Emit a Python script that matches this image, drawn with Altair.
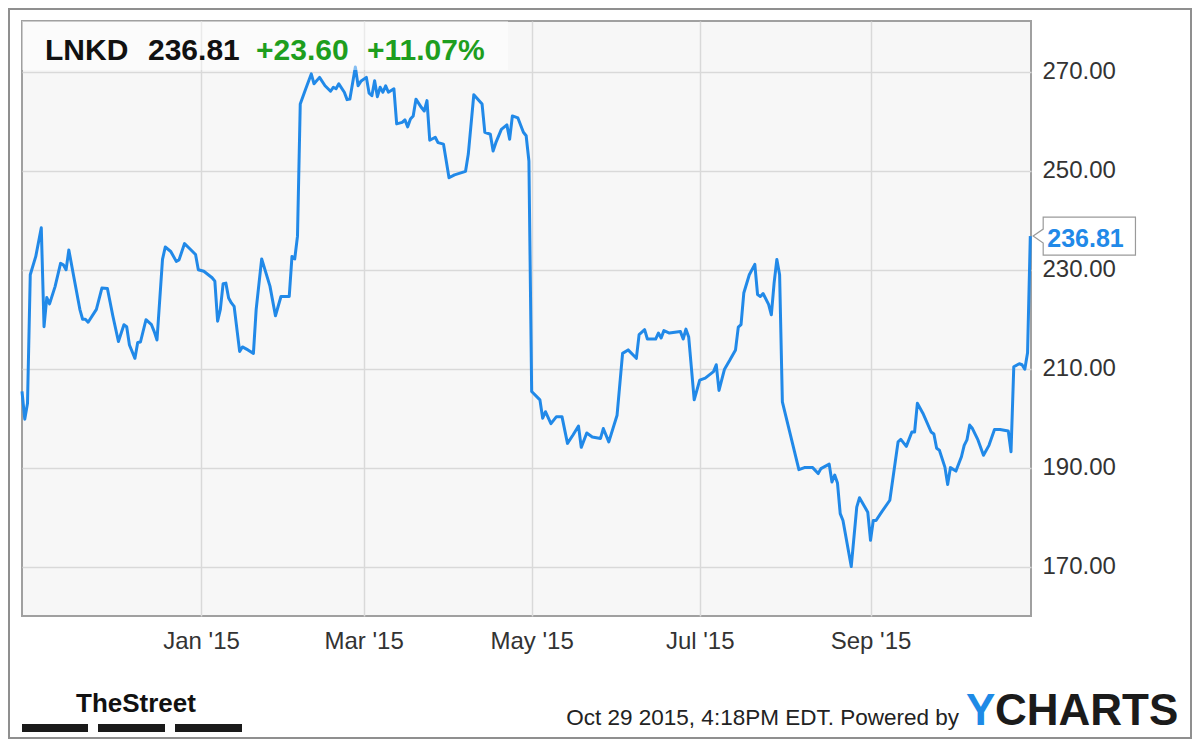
import altair as alt
import pandas as pd

# ---------------- data ----------------
dates = [
    "2014-10-28", "2014-10-29", "2014-10-30", "2014-10-31", "2014-11-02", "2014-11-04",
    "2014-11-05", "2014-11-06", "2014-11-07", "2014-11-09", "2014-11-11", "2014-11-12",
    "2014-11-13", "2014-11-14", "2014-11-16", "2014-11-18", "2014-11-19", "2014-11-20",
    "2014-11-21", "2014-11-24", "2014-11-26", "2014-11-28", "2014-11-30", "2014-12-02",
    "2014-12-04", "2014-12-05", "2014-12-06", "2014-12-08", "2014-12-09", "2014-12-10",
    "2014-12-12", "2014-12-14", "2014-12-15", "2014-12-16", "2014-12-18", "2014-12-19",
    "2014-12-21", "2014-12-23", "2014-12-24", "2014-12-26", "2014-12-28", "2014-12-30",
    "2014-12-31", "2015-01-02", "2015-01-05", "2015-01-06", "2015-01-07", "2015-01-08",
    "2015-01-09", "2015-01-10", "2015-01-11", "2015-01-12", "2015-01-13", "2015-01-15",
    "2015-01-16", "2015-01-18", "2015-01-20", "2015-01-21", "2015-01-23", "2015-01-26",
    "2015-01-28", "2015-01-30", "2015-02-02", "2015-02-03", "2015-02-04", "2015-02-05",
    "2015-02-06", "2015-02-08", "2015-02-10", "2015-02-11", "2015-02-13", "2015-02-15",
    "2015-02-17", "2015-02-18", "2015-02-19", "2015-02-20", "2015-02-22", "2015-02-23",
    "2015-02-24", "2015-02-26", "2015-02-27", "2015-02-28", "2015-03-02", "2015-03-03",
    "2015-03-04", "2015-03-05", "2015-03-06", "2015-03-07", "2015-03-08", "2015-03-09",
    "2015-03-10", "2015-03-12", "2015-03-13", "2015-03-15", "2015-03-16", "2015-03-17",
    "2015-03-18", "2015-03-19", "2015-03-20", "2015-03-22", "2015-03-23", "2015-03-24",
    "2015-03-25", "2015-03-27", "2015-03-28", "2015-03-30", "2015-04-01", "2015-04-03",
    "2015-04-07", "2015-04-08", "2015-04-10", "2015-04-13", "2015-04-14", "2015-04-16",
    "2015-04-17", "2015-04-18", "2015-04-20", "2015-04-22", "2015-04-23", "2015-04-24",
    "2015-04-26", "2015-04-28", "2015-04-29", "2015-04-30", "2015-05-01", "2015-05-04",
    "2015-05-05", "2015-05-06", "2015-05-08", "2015-05-10", "2015-05-12", "2015-05-14",
    "2015-05-16", "2015-05-18", "2015-05-19", "2015-05-21", "2015-05-23", "2015-05-26",
    "2015-05-27", "2015-05-29", "2015-06-01", "2015-06-03", "2015-06-05", "2015-06-08",
    "2015-06-09", "2015-06-11", "2015-06-12", "2015-06-15", "2015-06-16", "2015-06-17",
    "2015-06-18", "2015-06-20", "2015-06-24", "2015-06-25", "2015-06-26", "2015-06-27",
    "2015-06-29", "2015-07-01", "2015-07-03", "2015-07-06", "2015-07-07", "2015-07-08",
    "2015-07-10", "2015-07-12", "2015-07-14", "2015-07-15", "2015-07-16", "2015-07-17",
    "2015-07-19", "2015-07-21", "2015-07-22", "2015-07-23", "2015-07-24", "2015-07-26",
    "2015-07-27", "2015-07-28", "2015-07-29", "2015-07-30", "2015-07-31", "2015-08-06",
    "2015-08-08", "2015-08-11", "2015-08-13", "2015-08-14", "2015-08-17", "2015-08-18",
    "2015-08-19", "2015-08-20", "2015-08-21", "2015-08-22", "2015-08-25", "2015-08-27",
    "2015-08-28", "2015-08-31", "2015-09-01", "2015-09-02", "2015-09-03", "2015-09-05",
    "2015-09-08", "2015-09-11", "2015-09-12", "2015-09-14", "2015-09-16", "2015-09-17",
    "2015-09-18", "2015-09-20", "2015-09-23", "2015-09-24", "2015-09-25", "2015-09-26",
    "2015-09-28", "2015-09-29", "2015-09-30", "2015-10-02", "2015-10-04", "2015-10-05",
    "2015-10-06", "2015-10-07", "2015-10-08", "2015-10-10", "2015-10-12", "2015-10-14",
    "2015-10-16", "2015-10-18", "2015-10-21", "2015-10-22", "2015-10-23", "2015-10-25",
    "2015-10-26", "2015-10-27", "2015-10-28", "2015-10-29",
]
prices = [
    205.4, 199.8, 203.0, 229.0, 232.7, 238.5,
    218.5, 224.4, 223.1, 226.6, 231.3, 231.0,
    230.0, 234.0, 228.0, 222.0, 220.0, 220.0,
    219.4, 222.0, 226.3, 226.2, 220.6, 215.5,
    218.9, 218.5, 214.8, 212.1, 215.3, 215.4,
    219.9, 218.9, 217.5, 215.8, 232.1, 234.6,
    233.7, 231.7, 232.0, 235.3, 234.2, 233.1,
    230.0, 229.7, 228.4, 227.7, 219.6, 222.0,
    227.2, 227.3, 224.3, 223.3, 222.6, 213.5,
    214.4, 213.8, 213.1, 222.0, 232.2, 226.7,
    220.7, 224.6, 224.6, 232.7, 232.2, 236.8,
    263.5, 266.6, 269.6, 267.6, 268.9, 267.2,
    266.1, 266.9, 266.6, 267.6, 265.9, 264.4,
    264.5, 271.0, 267.2, 268.1, 268.9, 265.7,
    265.2, 268.2, 265.0, 266.9, 265.9, 267.2,
    265.9, 266.6, 259.5, 259.8, 260.3, 258.9,
    260.5, 261.1, 264.5, 262.8, 262.1, 264.2,
    256.2, 256.8, 255.7, 255.4, 248.6, 249.2,
    249.9, 253.4, 265.4, 263.5, 257.8, 257.4,
    254.0, 255.7, 258.4, 259.3, 256.4, 261.1,
    260.7, 257.8, 257.1, 252.0, 205.4, 203.7,
    200.0, 201.3, 198.9, 200.3, 200.3, 194.9,
    196.6, 198.4, 194.1, 197.0, 196.2, 195.9,
    197.9, 195.2, 200.6, 213.1, 213.8, 212.1,
    216.9, 217.9, 216.0, 216.0, 217.2, 216.2,
    217.7, 217.2, 217.5, 216.0, 218.0, 216.4,
    203.7, 207.7, 208.1, 209.4, 210.8, 205.6,
    209.9, 211.8, 213.8, 218.4, 218.9, 225.3,
    229.0, 231.1, 225.0, 224.6, 225.2, 223.0,
    220.9, 227.3, 232.1, 229.0, 203.3, 189.6,
    190.0, 190.0, 188.8, 189.8, 190.7, 187.1,
    188.5, 186.9, 180.7, 179.3, 170.0, 182.0,
    183.9, 181.0, 175.3, 179.3, 179.3, 181.0,
    183.4, 195.2, 195.7, 194.3, 197.2, 197.2,
    203.0, 201.0, 197.2, 196.8, 193.9, 193.5,
    190.1, 186.6, 190.0, 189.3, 192.2, 194.5,
    195.6, 198.6, 197.9, 195.6, 192.5, 194.5,
    197.7, 197.7, 197.4, 193.2, 210.4, 211.0,
    210.8, 209.9, 213.21, 236.81,
]

ticker = "LNKD"
last_price = 236.81
price_change = 23.60
pct_change = 11.07
y_ticks = [170, 190, 210, 230, 250, 270]
x_tick_months = [1, 3, 5, 7, 9]          # months of 2015 that carry a label
stamp_text = "Oct 29 2015, 4:18PM EDT. Powered by"
street_logo = "TheStreet"
ycharts_first = "Y"
ycharts_rest = "CHARTS"

# ---------------- styling ----------------
FONT = "Liberation Sans"
BLUE = "#2189e8"
GREEN = "#1e9e1e"
GRID = "#d9d9d9"
W, H = 1009, 595

df = pd.DataFrame({"date": dates, "price": prices})
last_row = pd.DataFrame({"date": [dates[-1]], "price": [last_price],
                         "label": [f"{last_price:.2f}"]})

x_scale = alt.Scale(type="utc", domain=[
    alt.DateTime(year=2014, month=10, date=28, utc=True),
    alt.DateTime(year=2015, month=10, date=29, hours=6, utc=True)])
y_scale = alt.Scale(domain=[160, 280.3], nice=False, zero=False)

x_axis = alt.Axis(values=[alt.DateTime(year=2015, month=m, date=1, utc=True) for m in x_tick_months],
                  labelExpr="utcFormat(datum.value, \"%b '%y\")", ticks=False, domain=False,
                  grid=True, gridColor=GRID, gridWidth=1.5, labelFont=FONT, labelFontSize=24,
                  labelColor="#333333", labelPadding=13, title=None)
y_axis = alt.Axis(orient="right", values=y_ticks, format=".2f", ticks=False, domain=False,
                  grid=True, gridColor=GRID, gridWidth=1.5, labelFont=FONT, labelFontSize=24,
                  labelColor="#333333", labelPadding=11, title=None)

X = alt.X("date:T", scale=x_scale, axis=x_axis)
Y = alt.Y("price:Q", scale=y_scale, axis=y_axis)


def const_text(txt, x, y, size, color, weight="normal", align="left", font=FONT):
    return alt.Chart(pd.DataFrame({"t": [txt]})).mark_text(
        align=align, baseline="alphabetic", font=font, fontSize=size,
        fontWeight=weight, color=color
    ).encode(x=alt.value(x), y=alt.value(y), text="t:N")


def const_rect(x, x2, y, y2, **kw):
    return alt.Chart(pd.DataFrame({"k": [0]})).mark_rect(**kw).encode(
        x=alt.value(x), x2=alt.value(x2), y=alt.value(y), y2=alt.value(y2))


line = alt.Chart(df).mark_line(color=BLUE, strokeWidth=3, strokeJoin="round").encode(x=X, y=Y)

title_box = const_rect(0, 486, 0, 49, fill="white", opacity=0.45)
t_ticker = const_text(ticker, 23, 39, 30, "#111111", "bold")
t_price = const_text(f"{last_price:.2f}", 126, 39, 30, "#111111", "bold")
t_chg = const_text(f"+{price_change:.2f}", 234, 39, 30, GREEN, "bold")
t_pct = const_text(f"+{pct_change:.2f}%", 345, 39, 30, GREEN, "bold")

callout_shape = ("M-1,0L-0.804,-0.137L-0.804,-0.3725L1,-0.3725L1,0.3725"
                 "L-0.804,0.3725L-0.804,0.137Z")
callout = alt.Chart(last_row).mark_point(
    shape=callout_shape, size=10465, filled=True, fill="white", fillOpacity=1,
    stroke="#9a9a9a", strokeOpacity=1, strokeWidth=1.2, opacity=1, xOffset=54
).encode(x=X, y=Y)
callout_text = alt.Chart(last_row).mark_text(
    align="left", baseline="alphabetic", dx=17, dy=11, font=FONT, fontSize=25,
    fontWeight="bold", color=BLUE
).encode(x=X, y=Y, text="label:N")

street = const_text(street_logo, 54, 691, 26, "#111111", "bold")
bar1 = const_rect(0, 66, 703, 711, fill="#1a1a1a")
bar2 = const_rect(76, 143, 703, 711, fill="#1a1a1a")
bar3 = const_rect(153, 220, 703, 711, fill="#1a1a1a")
stamp = const_text(stamp_text, 937, 704, 22.5, "#222222", align="right")
yc1 = const_text(ycharts_first, 944, 704, 44, "#1e8ae6", "bold")
yc2 = const_text(ycharts_rest, 973, 704, 44, "#1b1b1b", "bold")

border = const_rect(-13, 1169, -12, 717, fillOpacity=0, stroke="#8f8f8f", strokeWidth=2)

chart = alt.layer(
    line, title_box, t_ticker, t_price, t_chg, t_pct, callout, callout_text,
    street, bar1, bar2, bar3, stamp, yc1, yc2, border
).properties(
    width=W, height=H,
    autosize=alt.AutoSizeParams(type="none"),
    padding={"left": 14, "top": 13, "right": 161, "bottom": 123},
    background="white",
).configure_view(fill="#f7f7f7", stroke="#a0a0a0", strokeWidth=2)

chart.save("out.html", embed_options={"renderer": "svg", "actions": False})
